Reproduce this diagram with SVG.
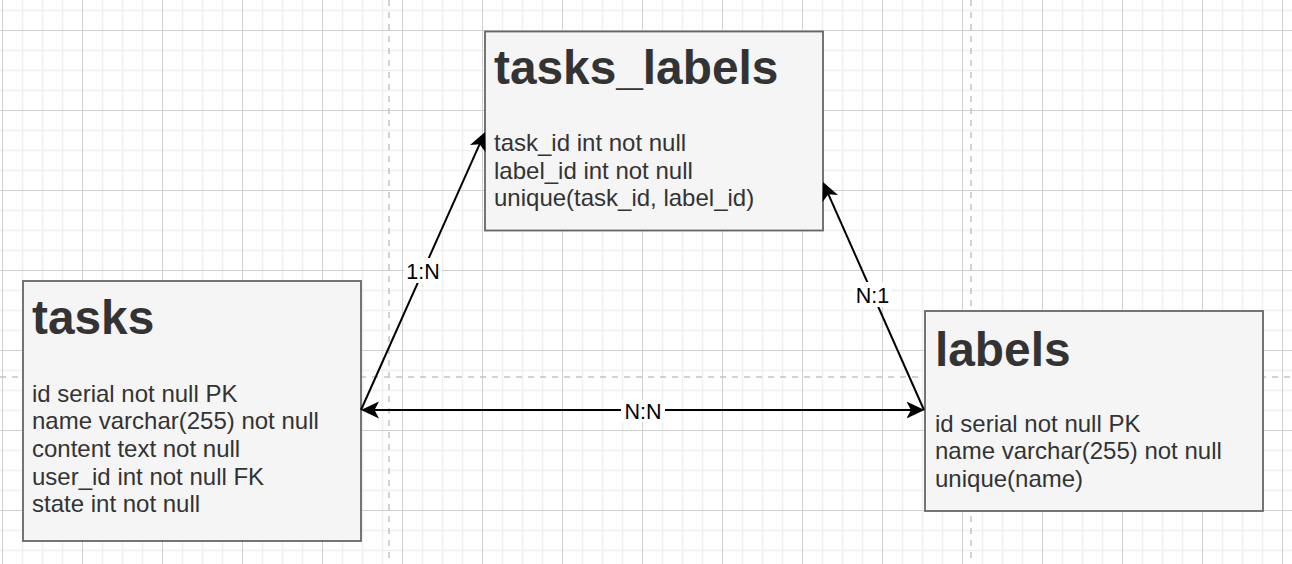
<svg xmlns="http://www.w3.org/2000/svg" width="1292" height="564" viewBox="0 0 1292 564">
  <style>
    .box { fill: #f5f5f5; stroke: #666666; stroke-width: 1.8; }
    .title { font-family: "Liberation Sans", Arial, Helvetica, sans-serif; font-size: 47.8px; font-weight: bold; fill: #333333; }
    .body { font-family: "Liberation Sans", Arial, Helvetica, sans-serif; font-size: 24px; fill: #333333; }
    .edge { stroke: #000000; stroke-width: 2; fill: none; }
    .elabel { font-family: "Liberation Sans", Arial, Helvetica, sans-serif; font-size: 21.5px; fill: #000000; text-anchor: middle; }
    .lblbg { fill: #ffffff; }
    .page { stroke: #c4c4c4; stroke-width: 1.5; stroke-dasharray: 6 6; }
  </style>
  <defs>
    <pattern id="grid" patternUnits="userSpaceOnUse" x="2" y="30" width="80" height="80">
      <path d="M20.5 0V80M40.5 0V80M60.5 0V80M0 20.5H80M0 40.5H80M0 60.5H80" stroke="#f0f0f0" stroke-width="1.6" fill="none"/>
      <path d="M0.5 0V80M0 0.5H80" stroke="#d0d0d0" stroke-width="1" fill="none"/>
    </pattern>
    <marker id="arrow" viewBox="0 0 18 18" refX="13" refY="9" markerWidth="18" markerHeight="18" markerUnits="userSpaceOnUse" orient="auto-start-reverse">
      <path d="M18 9L0 0.5L4.5 9L0 17.5Z" fill="#000000"/>
    </marker>
  </defs>

  <g id="background">
    <rect x="0" y="0" width="1292" height="564" fill="#ffffff"/>
    <rect x="0" y="0" width="1292" height="564" fill="url(#grid)"/>
    <line class="page" x1="389" y1="0" x2="389" y2="564"/>
    <line class="page" x1="971" y1="0" x2="971" y2="564"/>
    <line class="page" x1="0" y1="377" x2="1292" y2="377"/>
  </g>

  <g id="tasks">
    <rect class="box" x="23" y="281" width="338" height="260"/>
    <text class="title" x="32" y="334">tasks</text>
    <text class="body" x="32" y="401.5">id serial not null PK</text>
    <text class="body" x="32" y="429.2">name varchar(255) not null</text>
    <text class="body" x="32" y="456.9">content text not null</text>
    <text class="body" x="32" y="484.6">user_id int not null FK</text>
    <text class="body" x="32" y="512.3">state int not null</text>
  </g>

  <g id="tasks_labels">
    <rect class="box" x="485" y="31.5" width="338" height="199"/>
    <text class="title" x="494" y="83.5">tasks_labels</text>
    <text class="body" x="494" y="151">task_id int not null</text>
    <text class="body" x="494" y="178.7">label_id int not null</text>
    <text class="body" x="494" y="206.4">unique(task_id, label_id)</text>
  </g>

  <g id="labels">
    <rect class="box" x="925" y="311" width="338" height="200"/>
    <text class="title" x="935" y="366">labels</text>
    <text class="body" x="935" y="431.5">id serial not null PK</text>
    <text class="body" x="935" y="459.2">name varchar(255) not null</text>
    <text class="body" x="935" y="486.9">unique(name)</text>
  </g>

  <g id="connectors">
    <line class="edge" x1="361" y1="410" x2="483" y2="136.6" marker-end="url(#arrow)"/>
    <line class="edge" x1="924" y1="410" x2="825" y2="186.6" marker-end="url(#arrow)"/>
    <line class="edge" x1="366" y1="410" x2="919.5" y2="410" marker-start="url(#arrow)" marker-end="url(#arrow)"/>
    <rect class="lblbg" x="404" y="258" width="38" height="25"/>
    <text class="elabel" x="423" y="278.5">1:N</text>
    <rect class="lblbg" x="854" y="282" width="37" height="25"/>
    <text class="elabel" x="872.5" y="302.5">N:1</text>
    <rect class="lblbg" x="621" y="400" width="44" height="22"/>
    <text class="elabel" x="643" y="419">N:N</text>
  </g>
</svg>
